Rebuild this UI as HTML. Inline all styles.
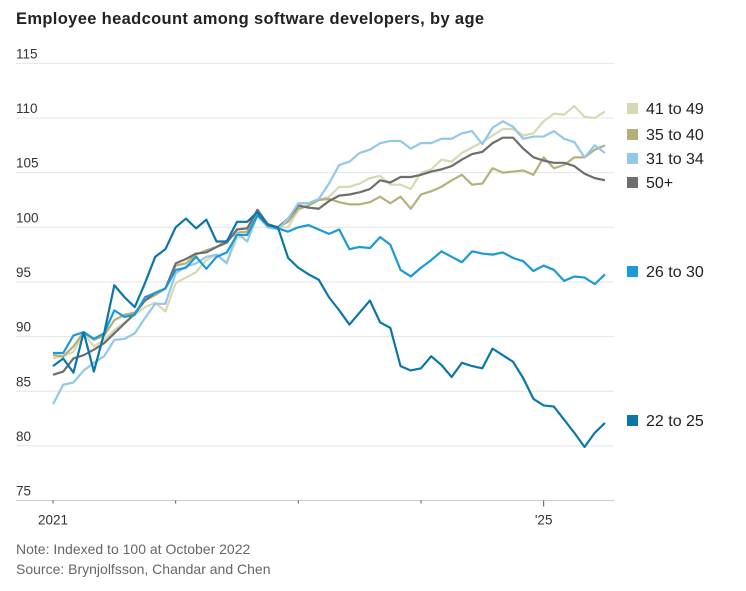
<!DOCTYPE html>
<html><head><meta charset="utf-8">
<style>
body{margin:0;background:#fff;width:746px;height:586px;overflow:hidden;font-family:"Liberation Sans",sans-serif;}
svg text{font-family:"Liberation Sans",sans-serif;}
</style></head>
<body>
<svg id="chart" width="746" height="586">
<text x="16" y="24" font-size="16.5" font-weight="bold" letter-spacing="0.35" fill="#222">Employee headcount among software developers, by age</text>
<g id="grid"></g>
<g id="lines"></g>
<g id="legend"></g>
<text x="16" y="554" font-size="14" fill="#666">Note: Indexed to 100 at October 2022</text>
<text x="16" y="574" font-size="14" fill="#666">Source: Brynjolfsson, Chandar and Chen</text>
</svg>
<script>
const yTicks=[75,80,85,90,95,100,105,110,115];
const xTickLabels=["2021","","","","'25"];
const s22_25=[87.3,88.0,86.7,90.4,86.8,90.3,94.7,93.6,92.7,94.9,97.3,98.0,100.0,100.8,99.9,100.7,98.7,98.7,100.5,100.5,101.4,100.2,100.0,97.2,96.3,95.7,95.2,93.6,92.4,91.1,92.2,93.3,91.3,90.8,87.3,86.9,87.1,88.2,87.4,86.3,87.6,87.3,87.1,88.9,88.3,87.7,86.2,84.3,83.7,83.6,82.4,81.2,79.9,81.2,82.1];
const s26_30=[88.5,88.5,90.1,90.4,89.8,90.3,92.4,91.8,92.0,93.6,94.0,94.4,96.1,96.3,97.3,96.2,97.3,97.7,99.3,99.3,101.1,100.2,99.9,99.6,100.0,100.2,99.8,99.4,99.8,98.0,98.2,98.1,99.1,98.4,96.1,95.5,96.3,97.0,97.8,97.3,96.8,97.8,97.6,97.5,97.7,97.2,96.9,96.0,96.5,96.1,95.1,95.5,95.4,94.8,95.7];
const s31_34=[83.8,85.6,85.8,86.9,87.6,88.2,89.7,89.8,90.3,91.7,93.0,93.0,95.8,96.4,96.7,97.3,97.5,96.7,99.5,98.7,101.1,100.0,99.8,100.8,102.2,102.2,102.6,104.0,105.7,106.0,106.8,107.1,107.7,107.9,107.9,107.2,107.7,107.7,108.1,108.1,108.6,108.8,107.6,109.1,109.7,109.2,108.1,108.3,108.3,108.8,108.1,107.8,106.4,107.5,106.8];
const s35_40=[88.3,88.2,89.1,90.4,89.7,90.1,91.5,92.0,92.2,93.3,93.8,94.4,96.5,96.7,97.5,97.9,98.2,98.8,99.5,99.6,101.3,100.2,100.0,100.5,101.7,102.0,102.5,102.6,102.3,102.1,102.1,102.3,102.8,102.2,102.8,101.7,103.0,103.3,103.7,104.3,104.8,103.9,104.0,105.4,105.0,105.1,105.2,104.8,106.4,105.4,105.7,106.4,106.4,107.1,107.5];
const s41_49=[88.0,88.2,88.6,90.3,89.1,89.7,90.6,91.3,92.0,92.7,93.1,92.3,94.9,95.4,95.9,97.0,97.5,96.8,99.0,99.4,101.0,100.3,100.0,100.0,101.6,102.0,102.5,102.8,103.7,103.7,104.0,104.5,104.7,103.9,103.9,103.5,105.0,105.3,106.2,106.0,106.8,107.3,107.8,108.4,109.0,109.0,108.4,108.6,109.7,110.4,110.3,111.1,110.1,110.0,110.6];
const s50p=[86.5,86.8,88.0,88.3,88.8,89.4,90.3,91.2,92.1,93.3,94.0,94.4,96.7,97.1,97.6,97.7,98.2,98.6,99.8,99.9,101.6,100.3,100.0,100.8,102.0,101.8,101.7,102.4,102.9,103.0,103.2,103.5,104.3,104.1,104.6,104.6,104.8,105.1,105.3,105.6,106.2,106.7,106.9,107.7,108.2,108.2,107.2,106.4,106.1,105.9,105.9,105.6,104.9,104.5,104.3];
const seriesNames=["41 to 49","35 to 40","31 to 34","50+","26 to 30","22 to 25"];

const NS="http://www.w3.org/2000/svg";
const X0=53,X1=605,Y100=227.3,PER=10.93;
function xs(i,n){return X0+i*(X1-X0)/(n-1);}
function ys(v){return Y100-(v-100)*PER;}
function mk(tag,attrs,parent){const e=document.createElementNS(NS,tag);for(const k in attrs)e.setAttribute(k,attrs[k]);parent.appendChild(e);return e;}
const grid=document.getElementById('grid');
yTicks.forEach(v=>{
  const l=mk('line',{x1:16,x2:614,y1:ys(v),y2:ys(v),stroke:v===75?'#ccc':'#e4e4e4','stroke-width':1},grid);
  
  
  const t=mk('text',{x:16,y:ys(v)-5,'font-size':13.5,fill:'#333'},grid);
  t.textContent=v;
  
  
});
xTickLabels.forEach((lab,k)=>{
  const x=xs(k*12,55);
  const tk=mk('line',{x1:x,x2:x,y1:ys(75),y2:ys(75)+(k===4?6:3),stroke:'#555','stroke-width':1},grid);
  
  
  if(lab){const t=mk('text',{x:x,y:ys(75)+24,'font-size':13.5,fill:'#333','text-anchor':'middle'},grid);
  t.textContent=lab;
  
  }
});
const lines=document.getElementById('lines');
const order=[[s41_49,'#d7d9b2','line-41-49'],[s35_40,'#b5b07a','line-35-40'],[s50p,'#6e6e6e','line-50-plus'],[s31_34,'#92c8ea','line-31-34'],[s26_30,'#1a9ad6','line-26-30'],[s22_25,'#0b77a8','line-22-25']];
order.forEach(([d,c,n])=>{
  const p=mk('polyline',{points:d.map((v,i)=>xs(i,d.length)+','+ys(v)).join(' '),fill:'none',stroke:c,'stroke-width':2.2,'stroke-linejoin':'round'},lines);
  
  
});
const legend=document.getElementById('legend');
const legY=[108,134,158,182,271,420];
const legC=['#d7d9b2','#b5b07a','#92c8ea','#6e6e6e','#1a9ad6','#0b77a8'];
seriesNames.forEach((n,k)=>{
  const r=mk('rect',{x:627,y:legY[k]-5,width:11,height:11,fill:legC[k]},legend);
  
  
  const t=mk('text',{x:646,y:legY[k]+6,'font-size':16,fill:'#222'},legend);
  t.textContent=n;
  
  
});
</script>
</body></html>
